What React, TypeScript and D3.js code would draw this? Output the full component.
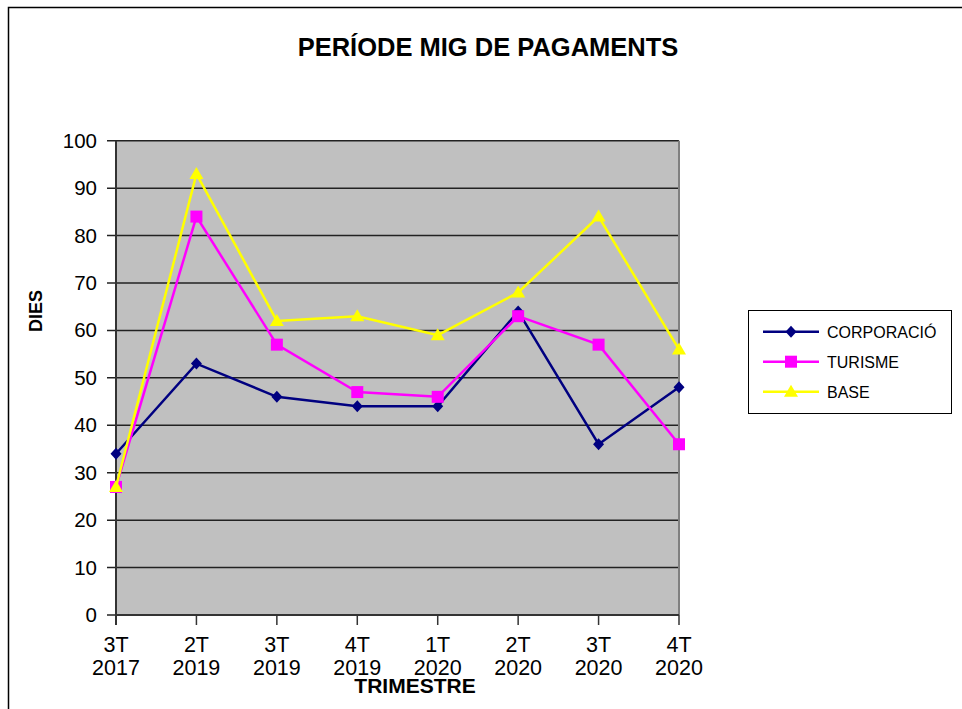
import * as d3 from 'd3';

const categories = ['3T 2017', '2T 2019', '3T 2019', '4T 2019', '1T 2020', '2T 2020', '3T 2020', '4T 2020'];
const corporacio = [34, 53, 46, 44, 44, 64, 36, 48];
const turisme = [27, 84, 57, 47, 46, 63, 57, 36];
const base = [27, 93, 62, 63, 59, 68, 84, 56];
const yTicks = [0, 10, 20, 30, 40, 50, 60, 70, 80, 90, 100];

const series = [
  { name: 'CORPORACIÓ', values: corporacio, color: '#000080', marker: 'diamond' },
  { name: 'TURISME', values: turisme, color: '#FF00FF', marker: 'square' },
  { name: 'BASE', values: base, color: '#FFFF00', marker: 'triangle' },
];

const W = 962;
const H = 709;
const plot = { left: 116, right: 679, top: 140.7, bottom: 615 };
const font = 'Arial, "Liberation Sans", sans-serif';

function Marker({ type, x, y, color }: { type: string; x: number; y: number; color: string }) {
  if (type === 'diamond') {
    return <path d={`M${x},${y - 6}L${x + 5.5},${y}L${x},${y + 6}L${x - 5.5},${y}Z`} fill={color} />;
  }
  if (type === 'square') {
    return <rect x={x - 6} y={y - 6} width={12} height={12} fill={color} />;
  }
  return <path d={`M${x},${y - 7}L${x + 7},${y + 5}L${x - 7},${y + 5}Z`} fill={color} />;
}

export default function App() {
  const x = d3.scalePoint<string>().domain(categories).range([plot.left, plot.right]);
  const y = d3.scaleLinear().domain([0, 100]).range([plot.bottom, plot.top]);
  const line = d3.line<number>()
    .x((_, i) => x(categories[i]) ?? 0)
    .y(d => y(d));

  return (
    <svg width={W} height={H} style={{ position: 'absolute', left: 0, top: 0, background: '#fff' }} fontFamily={font}>
      {/* outer frame */}
      <rect x={8.5} y={7.5} width={1000} height={1000} fill="none" stroke="#000" strokeWidth={1.5} />

      <text x={488} y={56} textAnchor="middle" fontSize={25.5} fontWeight="bold">PERÍODE MIG DE PAGAMENTS</text>

      {/* plot area */}
      <rect x={plot.left} y={plot.top} width={plot.right - plot.left} height={plot.bottom - plot.top} fill="#C0C0C0" />
      {yTicks.map(t => (
        <g key={t}>
          <line x1={plot.left - 9} x2={plot.right} y1={y(t)} y2={y(t)} stroke="#222" strokeWidth={1.5} />
          <text x={97} y={y(t) + 7} textAnchor="end" fontSize={20.5}>{t}</text>
        </g>
      ))}
      <line x1={plot.left} x2={plot.left} y1={plot.top} y2={plot.bottom + 10} stroke="#333" strokeWidth={2} />
      <line x1={plot.right} x2={plot.right} y1={plot.top} y2={plot.bottom} stroke="#808080" strokeWidth={2} />
      <line x1={plot.left} x2={plot.right} y1={plot.bottom} y2={plot.bottom} stroke="#333" strokeWidth={2} />
      {categories.map(c => {
        const [q, yr] = c.split(' ');
        const cx = x(c) ?? 0;
        return (
          <g key={c}>
            <line x1={cx} x2={cx} y1={plot.bottom} y2={plot.bottom + 10} stroke="#333" strokeWidth={1.5} />
            <text x={cx} y={652} textAnchor="middle" fontSize={21.5}>{q}</text>
            <text x={cx} y={675} textAnchor="middle" fontSize={21.5}>{yr}</text>
          </g>
        );
      })}

      {/* series */}
      {series.map(s => (
        <g key={s.name}>
          <path d={line(s.values) ?? ''} fill="none" stroke={s.color} strokeWidth={2.5} />
          {s.values.map((v, i) => (
            <Marker key={i} type={s.marker} x={x(categories[i]) ?? 0} y={y(v)} color={s.color} />
          ))}
        </g>
      ))}

      {/* axis titles */}
      <text x={415} y={693} textAnchor="middle" fontSize={21} fontWeight="bold">TRIMESTRE</text>
      <text transform="translate(42,311) rotate(-90)" textAnchor="middle" fontSize={18} fontWeight="bold">DIES</text>

      {/* legend */}
      <rect x={748.5} y={310.5} width={203} height={103} fill="#fff" stroke="#000" strokeWidth={1} />
      {series.map((s, i) => {
        const ly = 331.7 + i * 30;
        return (
          <g key={s.name}>
            <line x1={763} x2={819} y1={ly} y2={ly} stroke={s.color} strokeWidth={2.5} />
            <Marker type={s.marker} x={791} y={ly} color={s.color} />
            <text x={827} y={ly + 6} fontSize={16}>{s.name}</text>
          </g>
        );
      })}
    </svg>
  );
}
